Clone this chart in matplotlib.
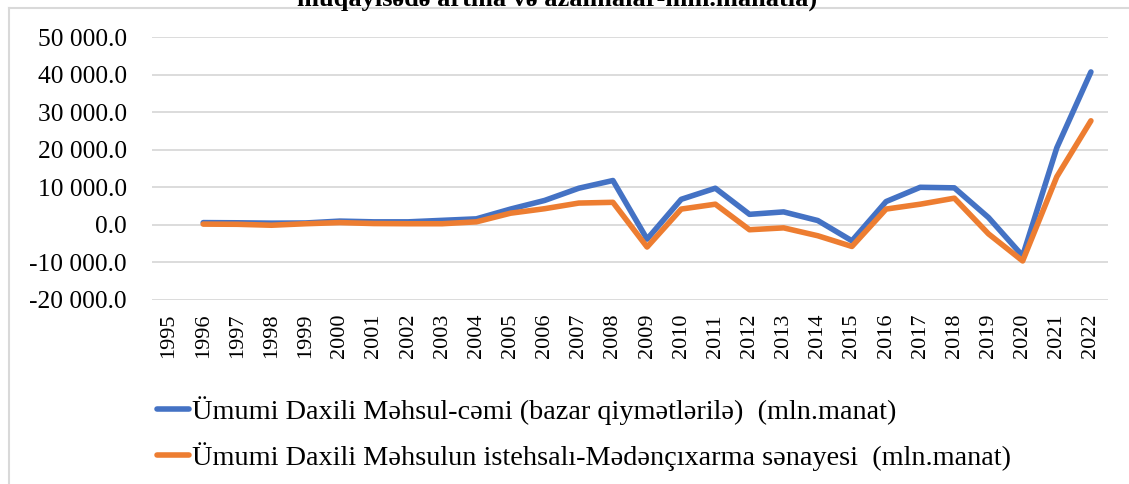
import matplotlib
matplotlib.use('Agg')
import matplotlib.pyplot as plt
import matplotlib.ticker as ticker
from matplotlib.lines import Line2D
import numpy as np

# ==========================================
# DATOS
# ==========================================
YEARS = [str(y) for y in range(1995, 2023)]

# Ümumi Daxili Məhsul-cəmi (artma/azalma, mln. manat) - 1995 yoxdur
UDM_CEMI = [np.nan, 600, 550, 450, 500, 1000, 800, 800, 1200, 1600,
            4200, 6500, 9750, 11800, -3800, 6800, 9750, 2800, 3450, 1150,
            -4250, 6200, 10000, 9850, 1950, -8250, 20500, 40700]

# Mədənçıxarma sənayesi (artma/azalma, mln. manat)
MEDEN = [np.nan, 200, 150, -100, 300, 600, 350, 300, 300, 800,
         3100, 4300, 5800, 6000, -5900, 4200, 5500, -1300, -800, -2900,
         -5750, 4200, 5500, 7100, -2400, -9600, 12800, 27700]

LABEL_1 = "Ümumi Daxili Məhsul-cəmi (bazar qiymətlərilə)  (mln.manat)"
LABEL_2 = "Ümumi Daxili Məhsulun istehsalı-Mədənçıxarma sənayesi  (mln.manat)"
TITULO = "müqayisədə artma və azalmalar-mln.manatla)"

AZUL = '#4472C4'
NARANJA = '#ED7D31'
GRIS = '#D9D9D9'

plt.rcParams['font.family'] = ['Liberation Serif', 'DejaVu Serif']

fig = plt.figure(figsize=(11.29, 4.84), dpi=100)
W, H = 1129, 484
ax = fig.add_axes([152 / W, 1 - 300 / H, (1108 - 152) / W, (300 - 37) / H])

x = np.arange(len(YEARS))
l1, = ax.plot(x, UDM_CEMI, color=AZUL, lw=4.0, solid_joinstyle='round',
              solid_capstyle='round', label=LABEL_1)
l2, = ax.plot(x, MEDEN, color=NARANJA, lw=4.0, solid_joinstyle='round',
              solid_capstyle='round', label=LABEL_2)

ax.set_xlim(-0.5, len(YEARS) - 0.5)
ax.set_ylim(-20000, 50000)
ax.set_xticks(x)
ax.set_xticklabels(YEARS, rotation=90, fontsize=16)
ax.yaxis.set_major_locator(ticker.MultipleLocator(10000))
ax.yaxis.set_major_formatter(
    ticker.FuncFormatter(lambda v, _: f'{v:,.1f}'.replace(',', ' ')))
ax.tick_params(axis='y', labelsize=18.4, length=0, pad=18)
ax.tick_params(axis='x', length=0, pad=10)
ax.grid(axis='y', color=GRIS, lw=1.3)
ax.set_axisbelow(True)
for s in ax.spines.values():
    s.set_visible(False)

# Leyenda debajo
fig.legend([l1, l2], [LABEL_1, LABEL_2], loc='upper left',
           bbox_to_anchor=(157 / W, 1 - 396 / H), frameon=False,
           fontsize=20.3, handlelength=1.15, handletextpad=0.08,
           labelspacing=0.6, borderaxespad=0, borderpad=0)

# Marco del gráfico
fig.add_artist(Line2D([9 / W, 9 / W], [0, 1 - 8 / H], color=GRIS, lw=1.5))
fig.add_artist(Line2D([9 / W, 1], [1 - 8 / H, 1 - 8 / H], color=GRIS, lw=1.5))

# Título recortado arriba
fig.text(557 / W, 1 - 6 / H, TITULO, ha='center', va='baseline',
         fontsize=19, fontweight='bold')

fig.savefig('out.png', dpi=100)
